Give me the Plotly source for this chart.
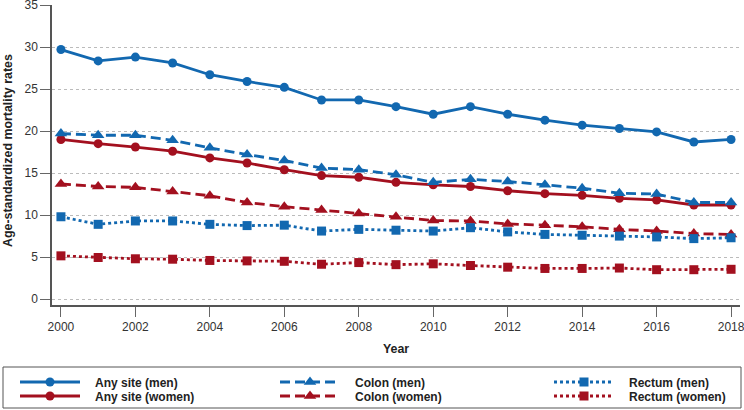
import plotly.graph_objects as go

years = list(range(2000, 2019))

any_men = [29.7, 28.35, 28.8, 28.1, 26.7, 25.9, 25.2, 23.7, 23.7, 22.9, 22.0, 22.9, 22.0, 21.3, 20.7, 20.3, 19.9, 18.7, 19.0]
any_women = [19.0, 18.5, 18.1, 17.6, 16.8, 16.2, 15.4, 14.7, 14.5, 13.9, 13.6, 13.4, 12.9, 12.55, 12.35, 12.0, 11.8, 11.2, 11.2]
colon_men = [19.7, 19.5, 19.5, 18.9, 18.0, 17.2, 16.5, 15.6, 15.4, 14.8, 13.9, 14.25, 14.0, 13.6, 13.2, 12.6, 12.5, 11.5, 11.5]
colon_women = [13.7, 13.4, 13.3, 12.8, 12.3, 11.5, 11.0, 10.6, 10.2, 9.8, 9.35, 9.3, 8.95, 8.8, 8.6, 8.3, 8.1, 7.8, 7.7]
rectum_men = [9.8, 8.9, 9.3, 9.3, 8.9, 8.75, 8.8, 8.1, 8.3, 8.2, 8.1, 8.5, 8.0, 7.7, 7.6, 7.5, 7.4, 7.2, 7.3]
rectum_women = [5.15, 4.95, 4.8, 4.75, 4.6, 4.55, 4.5, 4.15, 4.35, 4.1, 4.2, 4.0, 3.8, 3.65, 3.65, 3.7, 3.5, 3.5, 3.55]

y_ticks = [0, 5, 10, 15, 20, 25, 30, 35]
x_ticks = list(range(2000, 2019, 2))
y_title = "Age-standardized mortality rates"
x_title = "Year"

BLUE = "#1268b0"
RED = "#a3101f"

W, H = 744, 410
ML, MR, MT, MB = 52, 4, 5, 105

series = [
    ("Any site (men)", any_men, BLUE, "solid", "circle", 9),
    ("Any site (women)", any_women, RED, "solid", "circle", 9),
    ("Colon (men)", colon_men, BLUE, "10px,5px", "triangle-up", 11),
    ("Colon (women)", colon_women, RED, "10px,5px", "triangle-up", 11),
    ("Rectum (men)", rectum_men, BLUE, "3px,3px", "square", 9),
    ("Rectum (women)", rectum_women, RED, "3px,3px", "square", 9),
]
# legend entry positions (pixels): left of sample, row centre
col_x = [15, 275, 549]
row_y = [382, 396]
PAD = "\u00a0\u00a0\u00a0"

legend_font = dict(size=12, color="#222222", family="Liberation Sans, Arial, sans-serif", weight="bold")

fig = go.Figure()
layout_legends = {}
for i, (name, vals, col, dash, sym, size) in enumerate(series):
    lname = "legend" if i == 0 else f"legend{i + 1}"
    fig.add_trace(go.Scatter(
        x=years, y=vals, name=PAD + name, mode="lines+markers",
        line=dict(color=col, width=2.8, dash=dash),
        marker=dict(color=col, symbol=sym, size=size),
        legend=lname,
        hovertemplate=name + "<br>%{x}: %{y}<extra></extra>",
    ))
    cx = col_x[i // 2]
    ry = row_y[i % 2]
    layout_legends[lname] = dict(
        xref="container", yref="container",
        x=cx / W, y=1 - ry / H, xanchor="left", yanchor="middle",
        itemwidth=60, bgcolor="rgba(0,0,0,0)", borderwidth=0,
        font=legend_font,
    )

fig.update_layout(
    width=W, height=H,
    margin=dict(l=ML, r=MR, t=MT, b=MB, autoexpand=False),
    plot_bgcolor="white", paper_bgcolor="white",
    font=dict(family="Liberation Sans, Arial, sans-serif", size=12, color="#333333"),
    showlegend=True,
    **layout_legends,
)

pw, ph = W - ML - MR, H - MT - MB
# legend frame
fig.add_shape(
    type="rect", xref="paper", yref="paper",
    x0=(3 - ML) / pw, x1=(741 - ML) / pw,
    y0=(H - MB - 408) / ph, y1=(H - MB - 367) / ph,
    line=dict(color="#555555", width=1), fillcolor="rgba(0,0,0,0)",
)
# y-axis title
fig.add_annotation(
    text="<b>" + y_title + "</b>", textangle=-90,
    xref="paper", yref="paper", x=(8 - ML) / pw, y=(H - MB - 151) / ph,
    xanchor="center", yanchor="middle", showarrow=False,
    font=dict(size=12.4, color="#222222", family="Liberation Sans, Arial, sans-serif"),
)

fig.update_xaxes(
    range=[1999.76, 2018.24], tickvals=x_ticks, ticks="outside", ticklen=10,
    tickcolor="#666666", showline=True, linecolor="#555555", linewidth=1.5,
    showgrid=False, zeroline=False, ticklabeloverflow="allow",
    title=dict(text="<b>" + x_title + "</b>", standoff=11, font=dict(size=12.4, color="#222222")),
    tickfont=dict(size=12, color="#333333"),
)
fig.update_yaxes(
    range=[-0.7, 35], tickvals=y_ticks, ticks="outside", ticklen=10,
    tickcolor="#666666", showline=True, linecolor="#555555", linewidth=1.5,
    showgrid=True, gridcolor="#bbbbbb", griddash="dot", gridwidth=1,
    zeroline=False, ticklabeloverflow="allow",
    tickfont=dict(size=12, color="#333333"),
)

fig.write_html(
    "out.html",
    config={"displayModeBar": False},
    post_script="document.body.style.margin='0'; var gd=document.getElementById('{plot_id}'); Plotly.relayout(gd, {});",
)
